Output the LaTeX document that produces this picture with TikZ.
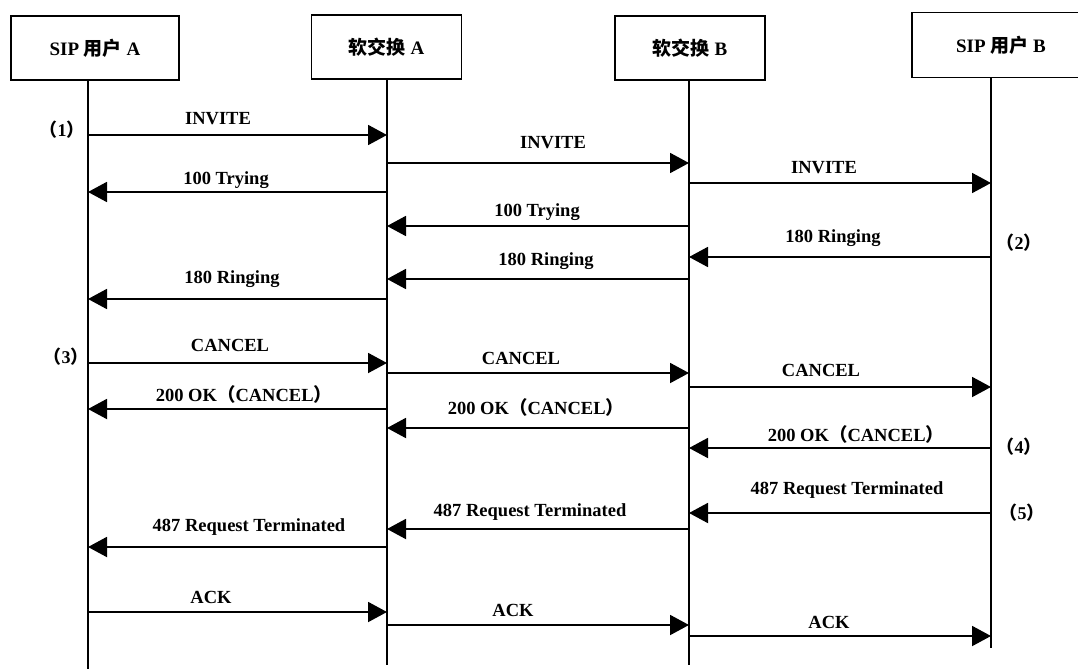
\documentclass[tikz,border=0pt]{standalone}
\usepackage{fontspec}
\setmainfont{Liberation Serif}
\newfontfamily\cjk{Noto Sans CJK SC}
\usetikzlibrary{arrows.meta}
\newcommand\zlp{{\cjk （}}
\newcommand\zrp{{\cjk ）}}
\tikzset{
  actor/.style={draw, line width=1.6pt, minimum height=64pt, inner sep=0pt,
    font=\fontsize{19}{21}\selectfont\bfseries},
  life/.style={line width=1.9pt},
  msg/.style={line width=1.9pt, -{Triangle[length=19pt,width=20pt]}},
  lbl/.style={anchor=base, inner sep=0pt, font=\fontsize{18.5}{20}\selectfont\bfseries},
  note/.style={anchor=base, inner sep=0pt, font=\fontsize{18}{20}\selectfont\bfseries}
}
\begin{document}
\begin{tikzpicture}[x=1pt,y=-1pt]
\useasboundingbox[fill=white] (0,0) rectangle (1078,669);
% actors
\node[actor, minimum width=168pt] (ua) at (95,48) {SIP {\cjk 用户} A};
\node[actor, minimum width=150pt] (sa) at (386.5,47) {{\cjk 软交换} A};
\node[actor, minimum width=150pt] (sb) at (690,48) {{\cjk 软交换} B};
\node[actor, draw=none, minimum width=176pt, minimum height=63pt] (ub) at (1001,45) {SIP {\cjk 用户} B};
\coordinate (rim) at (1078,0);
\draw[line width=1.6pt] (rim |- ub.north) -- (ub.north west) -- (ub.south west) -- (rim |- ub.south);
% lifelines
\coordinate (ua-end) at (88,669);
\coordinate (sa-end) at (387,665);
\coordinate (sb-end) at (689,665);
\coordinate (ub-end) at (991,648);
\draw[life] (ua.south -| ua-end) -- (ua-end);
\draw[life] (sa.south -| sa-end) -- (sa-end);
\draw[life] (sb.south -| sb-end) -- (sb-end);
\draw[life] (ub.south -| ub-end) -- (ub-end);
% messages
\foreach \i/\f/\t/\y/\lab/\lx/\ly in {
  1/88/387/135/INVITE/218/124,
  2/387/689/163/INVITE/553/148,
  3/689/991/183/INVITE/824/173,
  4/387/88/192/100 Trying/226/184,
  5/689/387/226/100 Trying/537/216,
  6/991/689/257/180 Ringing/833/242,
  7/689/387/279/180 Ringing/546/265,
  8/387/88/299/180 Ringing/232/283,
  9/88/387/363/CANCEL/230/351,
  10/387/689/373/CANCEL/521/364,
  11/689/991/387/CANCEL/821/376,
  12/387/88/409/200 OK\zlp CANCEL\zrp/244/401,
  13/689/387/428/200 OK\zlp CANCEL\zrp/536/414,
  14/991/689/448/200 OK\zlp CANCEL\zrp/856/441,
  15/991/689/513/487 Request Terminated/847/494,
  16/689/387/529/487 Request Terminated/530/516,
  17/387/88/547/487 Request Terminated/249/531,
  18/88/387/612/ACK/211/603,
  19/387/689/625/ACK/513/616,
  20/689/991/636/ACK/829/628}
{
  \coordinate (m\i a) at (\f,\y);
  \coordinate (m\i b) at (\t,\y);
  \draw[msg] (m\i a) -- (m\i b);
  \node[lbl] (t\i) at (\lx,\ly) {\lab};
}
% step marks
\node[note] (n1) at (62,136) {\zlp 1\zrp};
\node[note] (n2) at (1019,249) {\zlp 2\zrp};
\node[note] (n3) at (66,363) {\zlp 3\zrp};
\node[note] (n4) at (1019,453) {\zlp 4\zrp};
\node[note] (n5) at (1022,519) {\zlp 5\zrp};
\end{tikzpicture}
\end{document}
